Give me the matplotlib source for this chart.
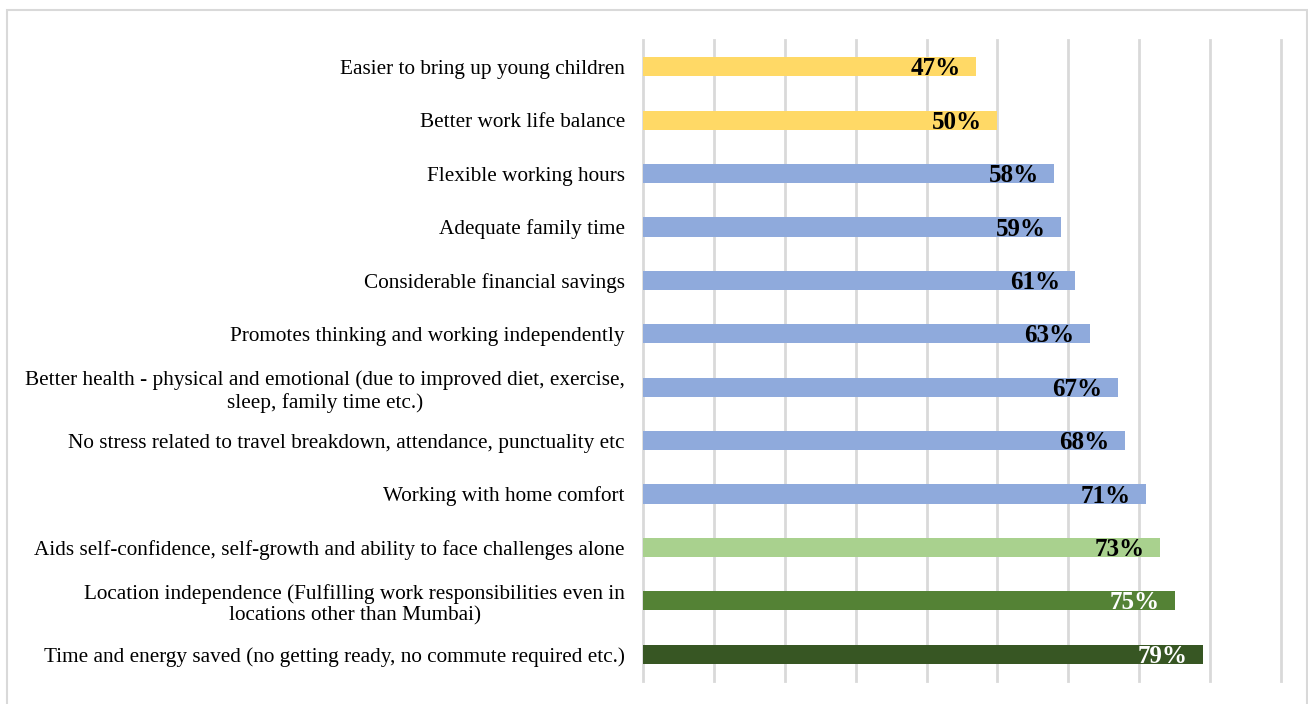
import matplotlib
matplotlib.use("Agg")
import matplotlib.pyplot as plt
from matplotlib.patches import Rectangle

categories = [
    "Easier to bring up young children",
    "Better work life balance",
    "Flexible working hours",
    "Adequate family time",
    "Considerable financial savings",
    "Promotes thinking and working independently",
    "Better health - physical and emotional (due to improved diet, exercise,\nsleep, family time etc.)",
    "No stress related to travel breakdown, attendance, punctuality etc",
    "Working with home comfort",
    "Aids self-confidence, self-growth and ability to face challenges alone",
    "Location independence (Fulfilling work responsibilities even in\nlocations other than Mumbai)",
    "Time and energy saved (no getting ready, no commute required etc.)",
]
values = [47, 50, 58, 59, 61, 63, 67, 68, 71, 73, 75, 79]
bar_colors = ["#FFD966", "#FFD966"] + ["#8FAADC"] * 7 + ["#A9D18E", "#548235", "#375623"]
label_colors = ["black"] * 10 + ["white", "white"]

plt.rcParams["font.family"] = ["Liberation Serif", "DejaVu Serif"]

fig = plt.figure(figsize=(13.08, 7.04), dpi=100)
ax = fig.add_axes([643 / 1308, 23 / 704, (1281 - 643) / 1308, (681 - 40) / 704])

ypos = list(range(len(categories)))
ax.barh(ypos, values, height=0.36, color=bar_colors, zorder=3)

for y, v, c in zip(ypos, values, label_colors):
    ax.annotate(f"{v}%", xy=(v, y), xytext=(-11, -1.5), textcoords="offset points",
                ha="right", va="center", fontsize=18, fontweight="bold", color=c, zorder=4)

ax.set_xlim(0, 90)
ax.set_ylim(len(categories) - 0.5, -0.5)
ax.set_xticks(range(0, 91, 10))
ax.set_xticklabels([])
ax.set_yticks(ypos)
ax.set_yticklabels(categories, fontsize=15.3, color="black")
for lbl in ax.get_yticklabels():
    lbl.set_multialignment("center")
ax.tick_params(axis="both", length=0)
ax.tick_params(axis="y", pad=13)
ax.grid(axis="x", color="#D9D9D9", linewidth=2, zorder=0)
for gl in ax.xaxis.get_gridlines():
    gl.set_clip_on(False)
for s in ax.spines.values():
    s.set_visible(False)

fig.add_artist(Rectangle((7 / 1308, -0.01), (1307 - 7) / 1308, (704 - 10) / 704 + 0.01,
                         transform=fig.transFigure, fill=False, edgecolor="#D9D9D9", linewidth=1.5))

fig.savefig("out.png", dpi=100)
